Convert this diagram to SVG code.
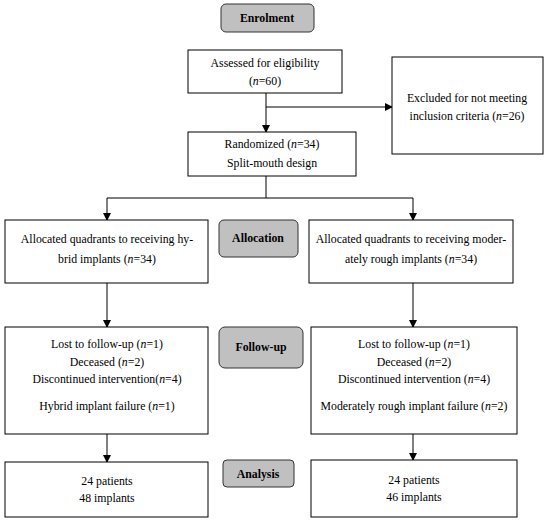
<svg xmlns="http://www.w3.org/2000/svg" width="550" height="522" viewBox="0 0 550 522">
<defs>
<marker id="ah" markerWidth="8" markerHeight="8" refX="7" refY="4" orient="auto" markerUnits="userSpaceOnUse">
<path d="M0,0 L8,4 L0,8 Z" fill="#000"/>
</marker>
<style>
.box{fill:#fff;stroke:#000;stroke-width:1}
.lbl{fill:#c0c0c0;stroke:#333;stroke-width:1}
text{font-family:"Liberation Serif","Times New Roman",serif;font-size:11.8px;fill:#000;text-anchor:middle}
.b{font-weight:bold}
.c{fill:none;stroke:#000;stroke-width:1}
</style>
</defs>
<rect width="550" height="522" fill="#fff"/>
<g id="connectors">
<line class="c" x1="266" y1="93" x2="266" y2="132" marker-end="url(#ah)"/>
<line class="c" x1="266" y1="107" x2="392" y2="107" marker-end="url(#ah)"/>
<polyline class="c" points="266,176 266,198 107,198 107,220" marker-end="url(#ah)"/>
<polyline class="c" points="266,198 413,198 413,220" marker-end="url(#ah)"/>
<line class="c" x1="107" y1="283" x2="107" y2="327" marker-end="url(#ah)"/>
<line class="c" x1="413" y1="283" x2="413" y2="327" marker-end="url(#ah)"/>
<line class="c" x1="107" y1="434" x2="107" y2="462" marker-end="url(#ah)"/>
<line class="c" x1="413" y1="434" x2="413" y2="460" marker-end="url(#ah)"/>
</g>
<g id="enrolment">
<rect class="lbl" x="221" y="4" width="93" height="28" rx="5"/>
<text class="b" x="267" y="22">Enrolment</text>
</g>
<g id="assessed">
<rect class="box" x="188" y="50" width="154" height="43"/>
<text x="265" y="67">Assessed for eligibility</text>
<text x="265" y="85">(<tspan font-style="italic">n</tspan>=60)</text>
</g>
<g id="excluded">
<rect class="box" x="392" y="57" width="151" height="97"/>
<text x="467" y="102">Excluded for not meeting</text>
<text x="467" y="120">inclusion criteria (<tspan font-style="italic">n</tspan>=26)</text>
</g>
<g id="randomized">
<rect class="box" x="188" y="132" width="168" height="44"/>
<text x="272" y="148">Randomized (<tspan font-style="italic">n</tspan>=34)</text>
<text x="272" y="167">Split-mouth design</text>
</g>
<g id="alloc-left">
<rect class="box" x="5" y="220" width="203" height="63"/>
<text x="107" y="243">Allocated quadrants to receiving hy-</text>
<text x="107" y="263">brid implants (<tspan font-style="italic">n</tspan>=34)</text>
</g>
<g id="allocation">
<rect class="lbl" x="219" y="220" width="79" height="37" rx="5"/>
<text class="b" x="258" y="242">Allocation</text>
</g>
<g id="alloc-right">
<rect class="box" x="309" y="220" width="204" height="63"/>
<text x="411" y="243">Allocated quadrants to receiving moder-</text>
<text x="411" y="263">ately rough implants (<tspan font-style="italic">n</tspan>=34)</text>
</g>
<g id="follow-left">
<rect class="box" x="5" y="327" width="203" height="107"/>
<text x="107" y="348">Lost to follow-up (<tspan font-style="italic">n</tspan>=1)</text>
<text x="107" y="366">Deceased (<tspan font-style="italic">n</tspan>=2)</text>
<text x="107" y="383">Discontinued intervention(<tspan font-style="italic">n</tspan>=4)</text>
<text x="107" y="410">Hybrid implant failure (<tspan font-style="italic">n</tspan>=1)</text>
</g>
<g id="followup">
<rect class="lbl" x="219" y="327" width="84" height="41" rx="6"/>
<text class="b" x="261" y="351">Follow-up</text>
</g>
<g id="follow-right">
<rect class="box" x="311" y="327" width="206" height="107"/>
<text x="414" y="348">Lost to follow-up (<tspan font-style="italic">n</tspan>=1)</text>
<text x="414" y="366">Deceased (<tspan font-style="italic">n</tspan>=2)</text>
<text x="414" y="383">Discontinued intervention (<tspan font-style="italic">n</tspan>=4)</text>
<text x="414" y="410">Moderately rough implant failure (<tspan font-style="italic">n</tspan>=2)</text>
</g>
<g id="analysis">
<rect class="lbl" x="223" y="460" width="71" height="27" rx="4"/>
<text class="b" x="258" y="478">Analysis</text>
</g>
<g id="analysis-left">
<rect class="box" x="5" y="462" width="203" height="55"/>
<text x="107" y="485">24 patients</text>
<text x="107" y="502">48 implants</text>
</g>
<g id="analysis-right">
<rect class="box" x="311" y="460" width="206" height="57"/>
<text x="414" y="484">24 patients</text>
<text x="414" y="501">46 implants</text>
</g>
</svg>
